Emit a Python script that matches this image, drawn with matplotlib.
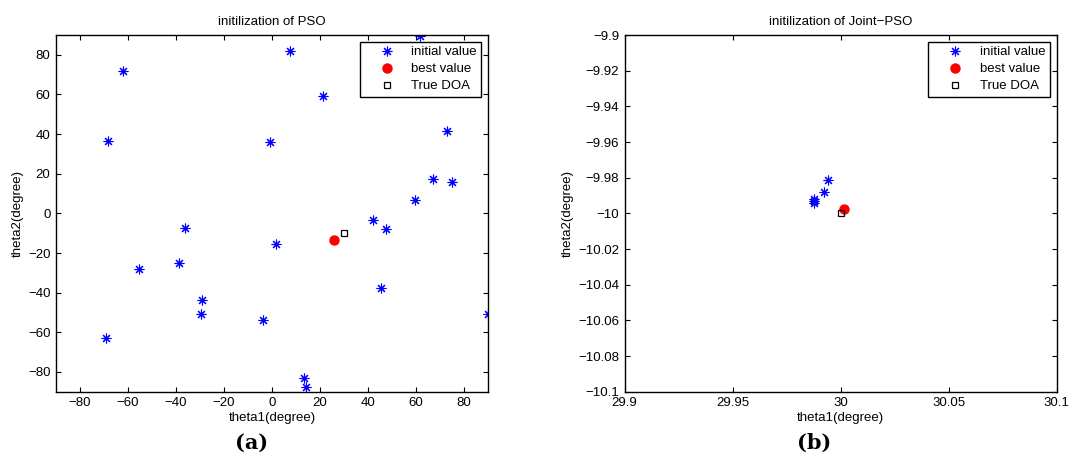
import matplotlib
matplotlib.use('Agg')
import matplotlib.pyplot as plt

plt.rcParams['font.family'] = ['Liberation Sans', 'DejaVu Sans']
plt.rcParams['font.size'] = 9.5

# (a) PSO initialization
pso_theta1 = [-68.2, -62.1, -36.2, -1.0, 7.5, 21.1, 61.5, 72.9, 67.2, 75.1, 59.6, 42.2, 47.4,
              1.8, -55.4, -38.7, -29.3, -29.7, -3.9, -69.3, 45.3, 89.9, 13.2, 14.0]
pso_theta2 = [36.7, 71.7, -7.3, 36.0, 81.7, 59.3, 89.6, 41.6, 17.2, 16.0, 6.9, -3.2, -7.8,
              -15.3, -28.0, -25.1, -43.5, -50.9, -53.6, -62.7, -37.4, -50.7, -82.9, -87.4]
pso_best = (25.7, -13.3)

# (b) Joint-PSO initialization
joint_theta1 = [29.9941, 29.9921, 29.9877, 29.9876, 29.9877]
joint_theta2 = [-9.9813, -9.9878, -9.9917, -9.9928, -9.9941]
joint_best = (30.0014, -9.9977)

true_doa = (30, -10)

joint_xticks = [29.9, 29.95, 30, 30.05, 30.1]
joint_xlabels = ['29.9', '29.95', '30', '30.05', '30.1']
joint_yticks = [-9.9, -9.92, -9.94, -9.96, -9.98, -10, -10.02, -10.04, -10.06, -10.08, -10.1]
joint_ylabels = ['\u22129.9', '\u22129.92', '\u22129.94', '\u22129.96', '\u22129.98', '\u221210',
                 '\u221210.02', '\u221210.04', '\u221210.06', '\u221210.08', '\u221210.1']

star = (8, 2, 0)


def draw_panel(ax, t1, t2, best, title):
    ax.plot(t1, t2, linestyle='none', marker=star, color='blue', markersize=7,
            markeredgewidth=0.8, label='initial value')
    ax.plot(best[0], best[1], linestyle='none', marker='o', color='red', markersize=6.5,
            label='best value')
    ax.plot(true_doa[0], true_doa[1], linestyle='none', marker='s', markerfacecolor='none',
            markeredgecolor='black', markersize=5, markeredgewidth=0.9, label='True DOA')
    ax.set_title(title, fontsize=9.5, pad=7)
    ax.set_xlabel('theta1(degree)', fontsize=9.5, labelpad=2)
    ax.set_ylabel('theta2(degree)', fontsize=9.5, labelpad=3)
    ax.tick_params(direction='in', top=True, right=True, length=3.5, width=0.8,
                   labelsize=9.5, pad=4)
    for s in ax.spines.values():
        s.set_linewidth(1.0)
    leg = ax.legend(loc='upper right', fontsize=9.5, fancybox=False, framealpha=1,
                    edgecolor='black', borderaxespad=0.5, handlelength=3.4,
                    handletextpad=0.15, borderpad=0.35, labelspacing=0.35)
    leg.get_frame().set_linewidth(1.0)


fig = plt.figure(figsize=(10.92, 4.55), dpi=100)

ax1 = fig.add_axes([0.0513, 0.139, 0.3956, 0.784])
draw_panel(ax1, pso_theta1, pso_theta2, pso_best, 'initilization of PSO')
ax1.set_xlim(-90, 90)
ax1.set_ylim(-90, 90)
ax1.set_xticks(range(-80, 81, 20))
ax1.set_yticks(range(-80, 81, 20))

ax2 = fig.add_axes([0.572, 0.139, 0.3956, 0.784])
draw_panel(ax2, joint_theta1, joint_theta2, joint_best, 'initilization of Joint\u2212PSO')
ax2.set_xlim(29.9, 30.1)
ax2.set_ylim(-10.1, -9.9)
ax2.set_xticks(joint_xticks)
ax2.set_xticklabels(joint_xlabels)
ax2.set_yticks(joint_yticks)
ax2.set_yticklabels(joint_ylabels)

fig.text(252 / 1092, 1 - 443 / 455, '(a)', ha='center', va='center', fontsize=15,
         fontweight='bold', family='DejaVu Serif')
fig.text(814 / 1092, 1 - 443 / 455, '(b)', ha='center', va='center', fontsize=15,
         fontweight='bold', family='DejaVu Serif')

fig.savefig('out.png', dpi=100)
